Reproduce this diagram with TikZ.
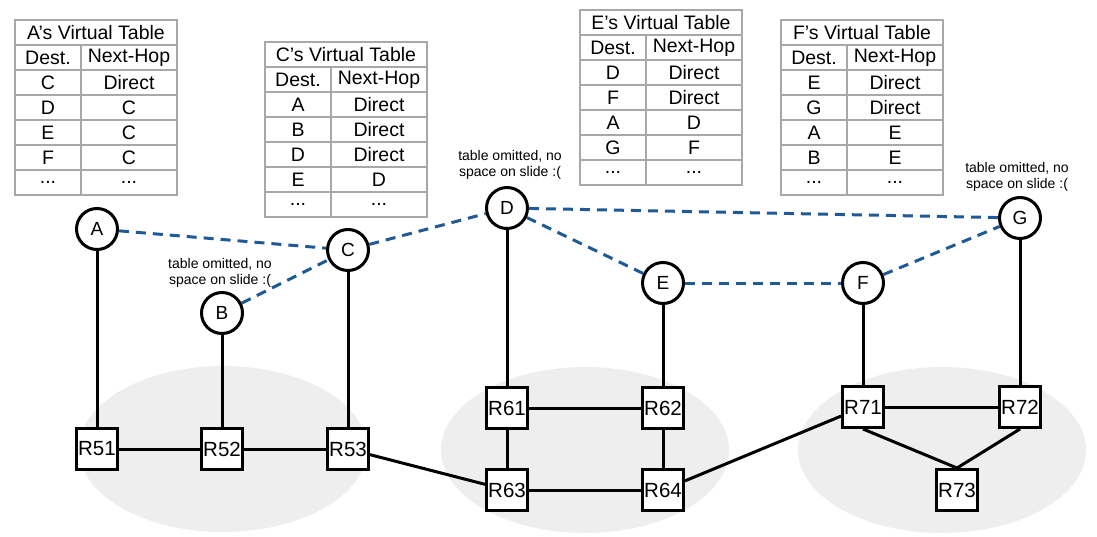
\documentclass[tikz,border=0pt]{standalone}
\usepackage{fontspec}
\setmainfont{Liberation Sans}
\usetikzlibrary{shapes.geometric}
\definecolor{linkblue}{HTML}{1F5A96}
\definecolor{cloud}{HTML}{EEEEEE}
\definecolor{grid}{HTML}{A8A8A8}
\newcommand\tdots{...}
\newcommand\vtab[5]{%
  \begin{scope}[shift={(#2,#3)}]
    \node[cell, minimum width=162pt] (#1t) at (81,12.5) {#4};
    \node[cell, minimum width=66pt] (#1ha) at (33,37.5) {Dest.};
    \node[cell, minimum width=96pt] (#1hb) at (114,37.5) {Next-Hop};
    \foreach \d/\n [count=\i] in {#5} {
      \node[cell, minimum width=66pt] (#1r\i a) at (33,{37.5+25*\i}) {\d};
      \node[cell, minimum width=96pt] (#1r\i b) at (114,{37.5+25*\i}) {\n};
    }
  \end{scope}}
\begin{document}
\begin{tikzpicture}[x=1pt,y=-1pt,
  cell/.style={draw=grid, line width=1.4pt, minimum height=25pt, inner sep=0pt, font=\fontsize{19.5}{21}\selectfont},
  host/.style={circle, draw=black, line width=3pt, fill=white, minimum size=41pt, inner sep=0pt, font=\fontsize{19}{21}\selectfont},
  router/.style={rectangle, draw=black, line width=3pt, fill=white, minimum width=41pt, minimum height=41pt, inner sep=0pt, font=\fontsize{20.5}{22}\selectfont},
  note/.style={align=center, font=\fontsize{14}{16}\selectfont, inner sep=0pt},
  vlink/.style={draw=linkblue, line width=3pt, dash pattern=on 10pt off 7pt},
  plink/.style={draw=black, line width=3pt},
  cloudshape/.style={ellipse, fill=cloud, minimum width=288pt, minimum height=166pt, inner sep=0pt}]
\useasboundingbox (0,0) rectangle (1097,537);
% clouds
\node[cloudshape] (cl5) at (223,449) {};
\node[cloudshape] (cl6) at (585,450) {};
\node[cloudshape] (cl7) at (942,450) {};
% tables
\vtab{ta}{15}{20}{A's Virtual Table}{C/Direct,D/C,E/C,F/C,\tdots/\tdots}
\vtab{tc}{265}{42}{C's Virtual Table}{A/Direct,B/Direct,D/Direct,E/D,\tdots/\tdots}
\vtab{te}{580}{10}{E's Virtual Table}{D/Direct,F/Direct,A/D,G/F,\tdots/\tdots}
\vtab{tf}{781}{20}{F's Virtual Table}{E/Direct,G/Direct,A/E,B/E,\tdots/\tdots}
% notes
\node[note] (nb) at (220,273) {table omitted, no\\space on slide :(};
\node[note] (nd) at (510,165) {table omitted, no\\space on slide :(};
\node[note] (ng) at (1017,177) {table omitted, no\\space on slide :(};
% routers
\node[router] (R51) at (97,449) {R51};
\node[router] (R52) at (222,449) {R52};
\node[router] (R53) at (348,449) {R53};
\node[router] (R61) at (507,408) {R61};
\node[router] (R62) at (663,408) {R62};
\node[router] (R63) at (507,490) {R63};
\node[router] (R64) at (663,490) {R64};
\node[router] (R71) at (863,407) {R71};
\node[router] (R72) at (1020,407) {R72};
\node[router] (R73) at (957,490) {R73};
% hosts
\node[host] (A) at (97,229) {A};
\node[host] (B) at (222,313) {B};
\node[host] (C) at (348,250) {C};
\node[host] (D) at (507,208) {D};
\node[host] (E) at (663,283) {E};
\node[host] (F) at (863,283) {F};
\node[host] (G) at (1020,218) {G};
% physical links
\draw[plink] (A) -- (R51);
\draw[plink] (B) -- (R52);
\draw[plink] (C) -- (R53);
\draw[plink] (D) -- (R61);
\draw[plink] (E) -- (R62);
\draw[plink] (F) -- (R71);
\draw[plink] (G) -- (R72);
\draw[plink] (R51) -- (R52);
\draw[plink] (R52) -- (R53);
\draw[plink] (R53) -- (R63);
\draw[plink] (R61) -- (R62);
\draw[plink] (R61) -- (R63);
\draw[plink] (R62) -- (R64);
\draw[plink] (R63) -- (R64);
\draw[plink] (R64) -- (R71);
\draw[plink] (R71) -- (R72);
\draw[plink] (R71.south) -- (R73.north);
\draw[plink] (R72.south) -- (R73.north);
% virtual links
\draw[vlink] (A) -- (C);
\draw[vlink] (B) -- (C);
\draw[vlink] (C) -- (D);
\draw[vlink] (D) -- (E);
\draw[vlink] (D) -- (G);
\draw[vlink] (E) -- (F);
\draw[vlink] (F) -- (G);
\end{tikzpicture}
\end{document}
